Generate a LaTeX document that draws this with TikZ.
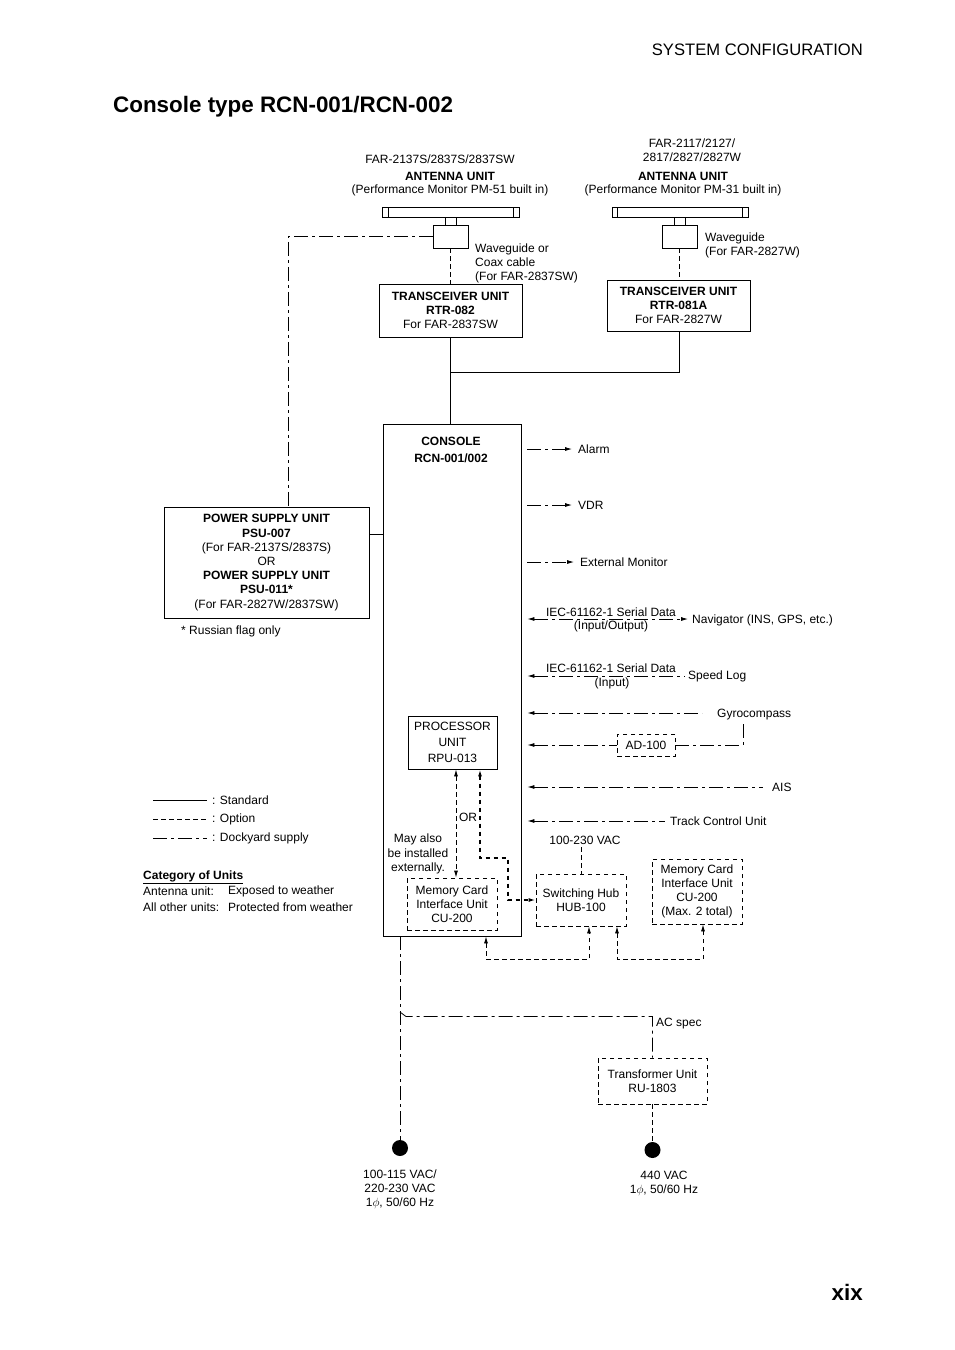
\documentclass[tikz,border=0pt]{standalone}
\usepackage{fontspec}
\setmainfont{Liberation Sans}
\usetikzlibrary{arrows.meta}
\newcommand\myfs{\fontsize{12}{14}\selectfont}
\begin{document}
\begin{tikzpicture}[x=1pt,y=-1pt,
  >={Latex[length=7pt,width=4pt]},
  every node/.style={font=\myfs, inner sep=0pt},
  std/.style={line width=0.8pt},
  opt/.style={line width=0.8pt, dash pattern=on 4.5pt off 3.5pt},
  dock/.style={line width=0.8pt, dash pattern=on 14pt off 4pt on 3pt off 4pt},
  sbox/.style={draw, line width=0.8pt, align=center},
  obox/.style={draw, opt, align=center},
  dotnode/.style={circle, fill, minimum size=16pt}]
\useasboundingbox (0,0) rectangle (954,1350);

% header, title, page number
\node[anchor=east, font=\fontsize{16.6}{20}\selectfont] (hdr) at (863,50) {SYSTEM CONFIGURATION};
\node[anchor=west, font=\bfseries\fontsize{22.4}{26}\selectfont] (title) at (113,107) {Console type RCN-001/RCN-002};
\node[anchor=east, font=\bfseries\fontsize{22.4}{26}\selectfont] (pg) at (863,1292) {xix};

% antenna 1
\node (a1m) at (440,159) {FAR-2137S/2837S/2837SW};
\node[font=\myfs\bfseries] (a1n) at (450,176) {ANTENNA UNIT};
\node (a1p) at (450,190) {(Performance Monitor PM-51 built in)};
\node[sbox, minimum width=137pt, minimum height=10pt] (bar1) at (450.5,212) {};
\draw[std] (388,207) -- (388,217);
\draw[std] (513,207) -- (513,217);
\node[sbox, minimum width=35pt, minimum height=23pt] (ab1) at (450.5,236.5) {};
\draw[std] (445,217) -- (445,225);
\draw[std] (456,217) -- (456,225);
\node[sbox, minimum width=143pt, minimum height=53pt] (tr1) at (450.5,310.5)
  {\textbf{TRANSCEIVER UNIT}\\\textbf{RTR-082}\\For FAR-2837SW};
\draw[opt] (ab1.south) -- (tr1.north);
\node[anchor=west, align=left] (wg1) at (475,263) {Waveguide or\\Coax cable\\(For FAR-2837SW)};

% antenna 2
\node (a2m1) at (692,143) {FAR-2117/2127/};
\node (a2m2) at (692,157) {2817/2827/2827W};
\node[font=\myfs\bfseries] (a2n) at (683,176) {ANTENNA UNIT};
\node (a2p) at (683,190) {(Performance Monitor PM-31 built in)};
\node[sbox, minimum width=136pt, minimum height=10pt] (bar2) at (680,212) {};
\draw[std] (617,207) -- (617,217);
\draw[std] (742,207) -- (742,217);
\node[sbox, minimum width=35pt, minimum height=23pt] (ab2) at (679.5,236.5) {};
\draw[std] (674.5,217) -- (674.5,225);
\draw[std] (685,217) -- (685,225);
\node[sbox, minimum width=143pt, minimum height=51pt] (tr2) at (678.5,305.5)
  {\textbf{TRANSCEIVER UNIT}\\\textbf{RTR-081A}\\For FAR-2827W};
\draw[opt] (ab2.south) -- (ab2.south |- tr2.north);
\node[anchor=west, align=left] (wg2) at (705,245) {Waveguide\\(For FAR-2827W)};

% console
\node[sbox, minimum width=138pt, minimum height=512pt] (con) at (452,680) {};
\node[font=\myfs\bfseries, align=center] (contxt) at (451,450) {CONSOLE\\[3pt]RCN-001/002};
\draw[std] (tr1.south) -- (tr1.south |- con.north);
\coordinate (jn) at (tr1.south |- 0,372);
\draw[std] (ab2.south |- tr2.south) |- (jn);

% power supply unit
\node[sbox, minimum width=205pt, minimum height=111pt, font=\fontsize{12}{14.2}\selectfont] (psu) at (266.5,562.5)
  {\textbf{POWER SUPPLY UNIT}\\\textbf{PSU-007}\\(For FAR-2137S/2837S)\\OR\\\textbf{POWER SUPPLY UNIT}\\\textbf{PSU-011*}\\(For FAR-2827W/2837SW)};
\draw[dock] (ab1.west) -| ([xshift=21.5pt]psu.north);
\draw[dock] (psu.east |- 0,534) -- (con.west |- 0,534);
\node[anchor=west] (rus) at (181,631) {* Russian flag only};

% right side connections
\coordinate (rx) at ([xshift=6pt]con.east);
\node[anchor=west] (alarm) at (578,449) {Alarm};
\draw[dock, ->] (rx |- alarm.west) -- ([xshift=-6pt]alarm.west);
\node[anchor=west] (vdr) at (578,505) {VDR};
\draw[dock, ->] (rx |- vdr.west) -- ([xshift=-6pt]vdr.west);
\node[anchor=west] (extmon) at (580,562) {External Monitor};
\draw[dock, ->] (rx |- extmon.west) -- ([xshift=-6pt]extmon.west);

\node[anchor=west] (nav) at (692,620) {Navigator (INS, GPS, etc.)};
\draw[dock, <->] (rx |- 0,619) -- ([xshift=-4pt]nav.west |- 0,619);
\node (iec1) at (611,612) {IEC-61162-1 Serial Data};
\node (iec1b) at (611,626) {(Input/Output)};

\node[anchor=west] (slog) at (688,676) {Speed Log};
\draw[dock, <-] (rx |- 0,676) -- ([xshift=-3pt]slog.west |- 0,676);
\node (iec2) at (611,668) {IEC-61162-1 Serial Data};
\node (iec2b) at (612,683) {(Input)};

\node[anchor=west] (gyro) at (717,715) {Gyrocompass};
\draw[dock, <-] (rx |- 0,713) -- ([xshift=-15pt]gyro.west |- 0,713);
\node[obox, minimum width=58pt, minimum height=22pt] (ad) at (646,745) {AD-100};
\draw[dock, <-] (rx |- ad.west) -- (ad.west);
\coordinate (gyb) at ([yshift=-3pt]gyro.south);
\draw[dock] (ad.east) -| (gyb -| 743,0);

\node[anchor=west] (ais) at (772,787) {AIS};
\draw[dock, <-] (rx |- ais.west) -- ([xshift=-9pt]ais.west);
\node[anchor=west] (tcu) at (670,821) {Track Control Unit};
\draw[dock, <-] (rx |- 0,821) -- ([xshift=-5pt]tcu.west |- 0,821);

% processor and internal units
\node[sbox, minimum width=89pt, minimum height=53pt, font=\fontsize{12}{16}\selectfont] (rpu) at (452.5,742.5) {PROCESSOR\\UNIT\\RPU-013};
\node[obox, minimum width=90pt, minimum height=52pt] (cu1) at (452,904) {Memory Card\\Interface Unit\\CU-200};
\draw[opt, <->] (rpu.south -| 456,0) -- (cu1.north -| 456,0);
\node (or) at (468,817) {OR};
\node[align=center, font=\fontsize{12}{14.5}\selectfont] (may) at (418,854) {May also\\be installed\\externally.};
\node[obox, minimum width=90pt, minimum height=52pt] (hub) at (581,900) {Switching Hub\\HUB-100};
\draw[opt, line width=1.6pt, <->] (rpu.south -| 480,0) |- (508,858) |- (hub.west);
\node (vac) at (585,840) {100-230 VAC};
\coordinate (vacb) at ([yshift=-3pt]vac.south);
\draw[opt] (vacb -| hub.north) -- (hub.north);
\node[obox, minimum width=90pt, minimum height=65pt] (cu2) at (697,891.5) {Memory Card\\Interface Unit\\CU-200\\(Max. 2 total)};
\draw[opt, <->] (con.south -| 486,0) |- (589,959) -- (hub.south -| 589,0);
\draw[opt, <->] (hub.south -| 617,0) |- (703,959) -- (cu2.south -| 703,0);

% power
\node[dotnode] (dot1) at (400,1148) {};
\draw[dock] (con.south -| dot1) -- (dot1.north);
\node[obox, minimum width=109pt, minimum height=46pt] (tu) at (652.5,1081) {Transformer Unit\\RU-1803};
\coordinate (ac1) at (400,1012);
\draw[dock] (ac1) -- (406,1016.5) -| (tu.north);
\node[anchor=west] (acs) at (656,1024) {AC spec};
\node[dotnode] (dot2) at (652.5,1150) {};
\draw[opt] (tu.south) -- (dot2.north);
\node[align=center] (pw1) at (400,1189) {100-115 VAC/\\220-230 VAC\\1$\phi$, 50/60 Hz};
\node[align=center] (pw2) at (664,1183) {440 VAC\\1$\phi$, 50/60 Hz};

% legend
\draw[std] (153,800) -- (207,800);
\draw[opt] (153,819) -- (207,819);
\draw[dock] (153,838) -- (207,838);
\node[anchor=west] (lg1) at (212,800) {: Standard};
\node[anchor=west] (lg2) at (212,819) {: Option};
\node[anchor=west] (lg3) at (212,838) {: Dockyard supply};
\node[anchor=west, font=\myfs\bfseries] (cat) at (143,877) {\underline{Category of Units}};
\node[anchor=west] (c1a) at (143,891) {Antenna unit:};
\node[anchor=west] (c1b) at (228,891) {Exposed to weather};
\node[anchor=west] (c2a) at (143,907) {All other units:};
\node[anchor=west] (c2b) at (228,907) {Protected from weather};
\end{tikzpicture}
\end{document}
